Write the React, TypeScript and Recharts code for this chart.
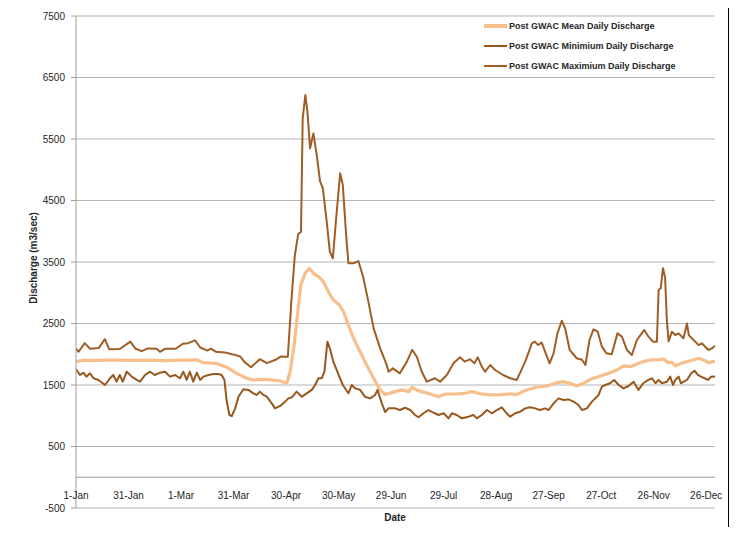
import React from 'react';
import { LineChart, Line, XAxis, YAxis, CartesianGrid, ReferenceLine } from 'recharts';

const xTicks = [0, 30, 60, 90, 120, 150, 180, 210, 240, 270, 300, 330, 360];
const xLabels = ['1-Jan', '31-Jan', '1-Mar', '31-Mar', '30-Apr', '30-May', '29-Jun', '29-Jul', '28-Aug', '27-Sep', '27-Oct', '26-Nov', '26-Dec'];
const yTicks = [-500, 500, 1500, 2500, 3500, 4500, 5500, 6500, 7500];

const seriesNames = ['Post GWAC Mean Daily Discharge', 'Post GWAC Minimium Daily Discharge', 'Post GWAC Maximium Daily Discharge'];
const seriesColors = ['#F7BF8C', '#98571C', '#9E5E26'];
const seriesWidths = [3.2, 2, 2];

const meanDays = [0,5,10,20,30,40,50,60,69,72.7,80,86,91.8,97.5,101,109,116.6,120.4,122.3,124.6,126.5,128.4,130.9,133.3,135.6,138.5,141.3,144.2,147,150.5,152.8,155.6,158.5,162.3,166,170,173.7,176.6,182.3,186,190,192,195.6,201,207,210.9,216.6,222,226,231.8,237.5,243,248,251.8,257.5,263,269,274.7,278.5,282.3,286,290,293.7,297.5,301.3,305,309,312.8,316.6,320.4,324,328,331.8,335.6,338.5,340.4,342.3,345.7,349,352.8,355.6,358.5,361.3,365];
const meanValues = [1880,1905,1895,1910,1900,1905,1895,1905,1910,1863,1853,1790,1690,1610,1582,1590,1566,1528,1716,2150,2638,3126,3316,3397,3316,3261,3180,3017,2882,2800,2692,2476,2259,2040,1825,1610,1420,1345,1392,1420,1392,1463,1405,1365,1310,1354,1354,1365,1392,1354,1338,1345,1355,1345,1420,1463,1484,1538,1554,1527,1484,1527,1592,1625,1663,1700,1744,1810,1798,1840,1880,1907,1907,1920,1863,1870,1810,1853,1880,1907,1935,1907,1863,1890];

const minDays = [0,2.3,4.2,6,8,10,12.8,16.6,19.4,21.3,23.2,25,26.7,29,31.8,34.7,36.6,39.4,42.3,45,48,50.9,53.7,56.6,59.4,61.3,63.2,65,67,69,70.9,72.8,75.6,78.5,81.3,83.2,84.8,86,87.6,89,90.9,92.8,95.6,98.5,101.3,103.2,105,107,109,111.8,113.7,116.6,119.4,121.3,123.3,126,129,131.8,134.7,136.6,138.5,140.4,141.9,143.6,145,147,150,152.4,155.6,157.5,159.4,162.3,165,168,170.9,172.2,174.7,176.6,178.5,182.3,185,188,190.9,193.7,195.6,198.5,201.3,204.2,207,210,212.8,214.7,217.5,220.4,224.2,227,229,231.8,234.7,237.5,240.4,243.2,246,248,250.9,253.7,256.6,259.4,262.3,265,268,270,272.8,275.6,278.5,281.3,284.2,287,289,291.8,294.7,296.6,298.5,300.4,302.3,305,307.4,310,312.8,315.6,318.5,321.3,324,327,329,331,332.8,334.7,337.5,339.4,341,342.3,344.2,345.5,347,349,351.4,353.3,355.2,357,359,361,362.8,365];
const minValues = [1755,1663,1700,1636,1690,1610,1582,1500,1610,1663,1554,1663,1554,1716,1636,1582,1554,1663,1716,1663,1700,1716,1636,1663,1610,1716,1582,1716,1554,1700,1582,1636,1663,1680,1680,1663,1582,1256,1012,996,1120,1310,1430,1420,1365,1338,1392,1338,1310,1202,1120,1160,1229,1283,1300,1392,1310,1365,1420,1500,1610,1610,1716,2205,2097,1880,1663,1500,1365,1500,1446,1420,1310,1283,1338,1420,1202,1060,1120,1120,1093,1130,1093,1012,975,1040,1093,1050,1012,1040,958,1040,1012,958,985,1012,958,1012,1093,1040,1093,1137,1040,985,1040,1066,1120,1137,1120,1093,1120,1093,1202,1283,1256,1265,1229,1175,1093,1120,1229,1283,1338,1473,1500,1528,1582,1500,1446,1484,1554,1420,1528,1582,1610,1528,1582,1528,1554,1636,1500,1582,1636,1528,1554,1582,1690,1733,1663,1636,1610,1582,1636,1640];

const maxDays = [0,1.5,5,8,13,16.5,19,25,31,34,37.5,41,46,48,51,57,61,64,68,71,75,77,80,85,89,91,94,96,100,105,109,114,117,121,123,125,127,128.5,129.5,131,132.2,133.7,135.6,137.5,139.4,141,143.2,145,146.7,148.6,150.9,152.4,154.3,155.6,158.5,161.3,164,167,170,173.7,177.5,178.5,181,185,189,192,194.7,197.5,200.4,205,208,211.8,215.6,219.4,222,225,227.6,229.5,231.8,233.7,236.6,239.4,244,248,251.8,256.6,260.4,262,264,266,268,270.5,272.8,275,277.5,279.4,282,286,289,291,293.3,295.6,298,300.4,303,306,309.3,311.8,314.7,317.5,320.4,324.6,327,329.5,331.8,332.8,334,335.3,336.5,337.5,338.5,340.4,342.3,344.2,347,349,350,351.8,353.7,355.6,357.5,359.4,361.3,363.3,365];
const maxValues = [2090,2040,2180,2090,2100,2245,2080,2085,2205,2090,2050,2095,2090,2040,2090,2090,2170,2180,2225,2110,2060,2090,2040,2030,2000,1990,1960,1880,1790,1920,1855,1910,1965,1960,2855,3610,3960,3990,5840,6215,5940,5350,5590,5240,4810,4700,4155,3670,3560,4210,4945,4750,3940,3480,3480,3515,3260,2855,2420,2100,1825,1716,1770,1690,1880,2070,1960,1716,1554,1610,1554,1663,1853,1950,1880,1917,1853,1950,1798,1716,1825,1744,1663,1610,1582,1880,2178,2205,2150,2190,2040,1853,2015,2340,2545,2422,2070,1935,1910,1825,2232,2405,2367,2123,2015,2000,2340,2286,2070,1988,2232,2395,2286,2205,2205,3045,3072,3400,3250,2550,2210,2367,2313,2340,2259,2500,2313,2259,2205,2150,2178,2123,2070,2097,2140];

const toData = (days: number[], values: number[]) => days.map((d, i) => ({ day: d, value: values[i] }));
const meanData = toData(meanDays, meanValues);
const minData = toData(minDays, minValues);
const maxData = toData(maxDays, maxValues);

const FONT = "'Liberation Sans', Arial, sans-serif";
const TEXT = '#262626';

const XTick = (props: any) => {
  const { x, payload } = props;
  const idx = xTicks.indexOf(payload.value);
  return (
    <text x={x} y={499} textAnchor="middle" fontFamily={FONT} fontSize={10} fill={TEXT}>
      {idx >= 0 ? xLabels[idx] : ''}
    </text>
  );
};

export default function App() {
  return (
    <div style={{ position: 'relative', width: 737, height: 535, margin: -8, background: '#fff', overflow: 'hidden' }}>
      <div style={{ position: 'absolute', left: 6, top: 2, width: 724, height: 600, border: '2px solid #000', boxSizing: 'border-box' }} />
      <div style={{ position: 'absolute', left: 0, top: 0 }}>
        <LineChart width={737} height={535} margin={{ top: 16, right: 22, bottom: 0, left: 0 }}>
          <CartesianGrid horizontal={true} vertical={false} stroke="#B5B5B5" strokeWidth={1} />
          <XAxis
            type="number"
            dataKey="day"
            domain={[0, 365]}
            ticks={xTicks}
            interval={0}
            height={27}
            axisLine={false}
            tickLine={false}
            tick={<XTick />}
            allowDataOverflow
            label={{
              content: () => (
                <text x={395} y={521} textAnchor="middle" fontFamily={FONT} fontSize={10} fontWeight="bold" fill={TEXT}>Date</text>
              ),
            }}
          />
          <YAxis
            type="number"
            domain={[-500, 7500]}
            ticks={yTicks}
            interval={0}
            width={76}
            axisLine={{ stroke: '#9E9E9E' }}
            tickLine={{ stroke: '#9E9E9E' }}
            tickSize={5}
            tickMargin={6}
            tick={{ fontFamily: FONT, fontSize: 10, fill: TEXT }}
            allowDataOverflow
            label={{
              content: () => (
                <text x={33} y={258} transform="rotate(-90 33 258)" textAnchor="middle" dominantBaseline="central" fontFamily={FONT} fontSize={10} fontWeight="bold" fill={TEXT}>Discharge (m3/sec)</text>
              ),
            }}
          />
          <ReferenceLine y={0} stroke="#9E9E9E" strokeWidth={1} />
          <Line data={meanData} dataKey="value" name={seriesNames[0]} type="linear" stroke={seriesColors[0]} strokeWidth={seriesWidths[0]} dot={false} activeDot={false} isAnimationActive={false} strokeLinejoin="round" />
          <Line data={minData} dataKey="value" name={seriesNames[1]} type="linear" stroke={seriesColors[1]} strokeWidth={seriesWidths[1]} dot={false} activeDot={false} isAnimationActive={false} strokeLinejoin="round" />
          <Line data={maxData} dataKey="value" name={seriesNames[2]} type="linear" stroke={seriesColors[2]} strokeWidth={seriesWidths[2]} dot={false} activeDot={false} isAnimationActive={false} strokeLinejoin="round" />
        </LineChart>
      </div>
      <div style={{ position: 'absolute', left: 484, top: 16, fontFamily: FONT, fontSize: 9, fontWeight: 'bold', color: TEXT }}>
        {seriesNames.map((name, i) => (
          <div key={name} style={{ display: 'flex', alignItems: 'center', height: 20 }}>
            <span style={{ display: 'inline-block', width: 23, height: seriesWidths[i] + 0.3, background: seriesColors[i], marginRight: 2 }} />
            <span>{name}</span>
          </div>
        ))}
      </div>
    </div>
  );
}
